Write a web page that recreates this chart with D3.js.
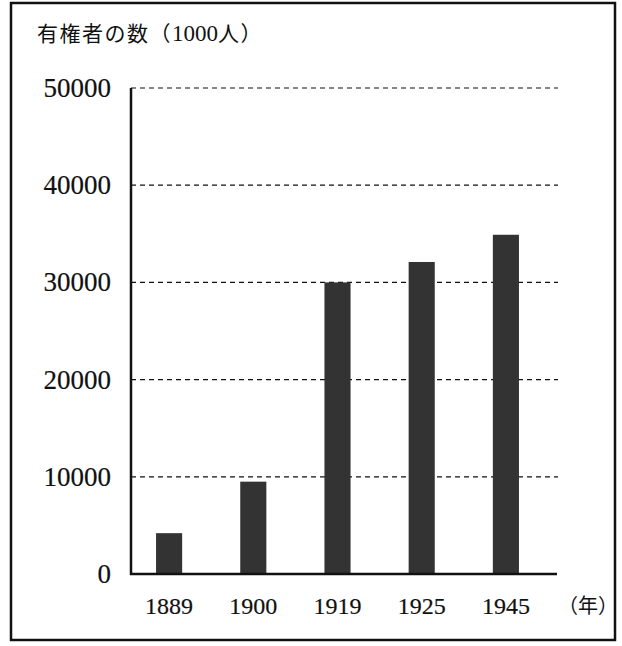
<!DOCTYPE html>
<html>
<head>
<meta charset="utf-8">
<script src="https://cdn.jsdelivr.net/npm/d3@7"></script>
<style>
body { margin: 0; background: #fff; }
text { font-family: "Liberation Serif", "Noto Sans CJK JP", serif; fill: #111; }
.num { stroke: #111; stroke-width: 0.2px; }
</style>
</head>
<body>
<svg width="622" height="646"></svg>
<script>
// data (unit: 1000 people)
var years = ["1889", "1900", "1919", "1925", "1945"];
var voters = [4200, 9500, 30000, 32100, 34900];
var yTicks = [0, 10000, 20000, 30000, 40000, 50000];

var svg = d3.select("svg");

// outer frame
svg.append("rect")
    .attr("x", 11).attr("y", 3)
    .attr("width", 604).attr("height", 637)
    .attr("fill", "none")
    .attr("stroke", "#111")
    .attr("stroke-width", 2.5);

var xScale = d3.scaleBand()
    .domain(years)
    .range([127, 548])
    .paddingInner(0.69)
    .paddingOuter(0.345);

var yScale = d3.scaleLinear()
    .domain([0, 50000])
    .range([574, 88]);

// dashed grid
svg.selectAll("line.grid")
    .data(yTicks.filter(function(d) { return d > 0; }))
    .enter().append("line")
    .attr("class", "grid")
    .attr("x1", 131).attr("x2", 558)
    .attr("y1", function(d) { return yScale(d); })
    .attr("y2", function(d) { return yScale(d); })
    .attr("stroke", "#111")
    .attr("stroke-width", 1.2)
    .attr("stroke-dasharray", "5,4");

// bars
svg.selectAll("rect.bar")
    .data(voters)
    .enter().append("rect")
    .attr("class", "bar")
    .attr("x", function(d, i) { return xScale(years[i]); })
    .attr("width", xScale.bandwidth())
    .attr("y", function(d) { return yScale(d); })
    .attr("height", function(d) { return yScale(0) - yScale(d); })
    .attr("fill", "#333333");

// axes lines
svg.append("line")
    .attr("x1", 131).attr("x2", 131)
    .attr("y1", yScale(50000)).attr("y2", yScale(0) + 1)
    .attr("stroke", "#111").attr("stroke-width", 2.5);
svg.append("line")
    .attr("x1", 130).attr("x2", 557)
    .attr("y1", yScale(0)).attr("y2", yScale(0))
    .attr("stroke", "#111").attr("stroke-width", 2.5);

// y tick labels
svg.selectAll("text.ytick")
    .data(yTicks)
    .enter().append("text")
    .attr("class", "ytick num")
    .attr("x", 111)
    .attr("y", function(d) { return yScale(d) + 9; })
    .attr("text-anchor", "end")
    .style("font-size", "27px")
    .text(function(d) { return d; });

// x labels
svg.selectAll("text.xtick")
    .data(years)
    .enter().append("text")
    .attr("class", "xtick num")
    .attr("x", function(d) { return xScale(d) + xScale.bandwidth() / 2; })
    .attr("y", 614)
    .attr("text-anchor", "middle")
    .style("font-size", "24px")
    .text(function(d) { return d; });

svg.append("text")
    .attr("x", 558).attr("y", 613)
    .style("font-size", "20px")
    .text("（年）");

// title
var title = svg.append("text")
    .attr("x", 37).attr("y", 41)
    .style("font-size", "21px")
    .style("letter-spacing", "1.5px");
title.append("tspan").text("有権者の数（");
title.append("tspan").style("font-size", "23px").style("letter-spacing", "0px").text("1000");
title.append("tspan").text("人）");
</script>
</body>
</html>
